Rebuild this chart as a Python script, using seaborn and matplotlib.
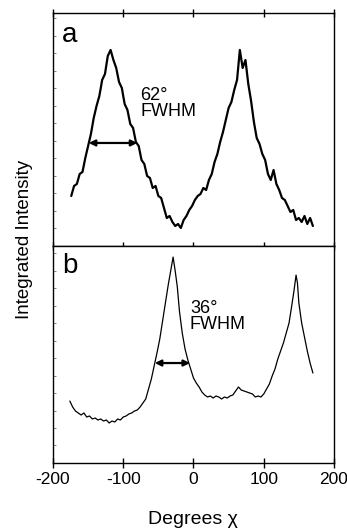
import pandas as pd
import matplotlib
matplotlib.use("Agg")
import matplotlib.pyplot as plt
from matplotlib.ticker import MultipleLocator
import seaborn as sns

# panel a: chi (deg) and integrated intensity (arb. units)
chi_a = [-174, -170, -166, -162, -158, -154, -150, -146, -142, -138, -134, -130, -126, -122,
         -118, -114, -110, -106, -102, -98, -94, -90, -86, -82, -78, -74, -70, -66, -62, -58,
         -54, -50, -46, -42, -38, -34, -30, -26, -22, -18, -14, -10, -6, -2, 2, 6, 10, 14, 18,
         22, 26, 30, 34, 38, 42, 46, 50, 54, 58, 62, 66, 70, 74, 78, 82, 86, 90, 94, 98, 102,
         106, 110, 114, 118, 122, 126, 130, 134, 138, 142, 146, 150, 154, 158, 162, 166, 170]
int_a = [50, 60, 62, 72, 74, 88, 100, 112, 128, 140, 150, 166, 172, 190,
         196, 186, 178, 164, 158, 142, 136, 122, 118, 104, 100, 86, 82, 70, 68, 58,
         60, 50, 48, 38, 28, 30, 24, 20, 22, 18, 26, 30, 36, 40, 46, 50, 52, 58, 56,
         66, 72, 84, 92, 104, 114, 126, 138, 144, 156, 166, 196, 178, 186, 162, 145, 124, 108, 102, 92, 86,
         72, 66, 76, 62, 56, 48, 46, 40, 34, 36, 26, 28, 24, 30, 22, 28, 20]

# panel b
chi_b = [-176, -172, -168, -164, -160, -156, -152, -148, -144, -140, -136, -132, -128, -124,
         -120, -116, -112, -108, -104, -100, -96, -92, -88, -84, -80, -76, -72, -68, -64, -60,
         -56, -52, -48, -44, -40, -36, -32, -29, -26, -23, -20, -16, -12, -8, -4, 0, 4, 8, 12,
         16, 20, 24, 28, 32, 36, 40, 44, 48, 52, 56, 60, 64, 68, 72, 76, 80, 84, 88, 92, 96,
         100, 104, 108, 112, 116, 120, 124, 128, 132, 136, 140, 143, 146, 148, 150, 154, 158,
         162, 166, 170]
int_b = [62, 56, 52, 50, 48, 50, 46, 47, 44, 45, 43, 44, 42, 43,
         40, 42, 41, 44, 43, 46, 47, 49, 50, 52, 53, 56, 60, 64, 74, 84,
         97, 110, 124, 142, 160, 178, 194, 206, 192, 176, 152, 130, 114, 103, 94, 85, 80, 76, 71,
         68, 66, 67, 65, 67, 66, 64, 66, 65, 67, 68, 72, 76, 73, 72, 71, 70, 69, 66, 67, 66,
         69, 74, 79, 87, 94, 104, 112, 120, 130, 140, 158, 172, 188, 180, 160, 140, 126,
         112, 100, 90]

xticks = [-200, -100, 0, 100, 200]
fwhm_a = (-149, -80, 103)
fwhm_b = (-55, -5, 100)

df_a = pd.DataFrame({"chi": chi_a, "I": int_a})
df_b = pd.DataFrame({"chi": chi_b, "I": int_b})

sns.set_style("ticks", {"axes.edgecolor": "black", "text.color": "black",
                        "xtick.color": "black", "ytick.color": "black",
                        "axes.labelcolor": "black"})
plt.rcParams['font.family'] = ['Liberation Sans', 'DejaVu Sans']
plt.rcParams['axes.unicode_minus'] = False

fig = plt.figure(figsize=(3.47, 5.29), dpi=100)
ax_a = fig.add_axes([0.1527, 0.535, 0.8098, 0.4405])
ax_b = fig.add_axes([0.1527, 0.1248, 0.8098, 0.410])

sns.lineplot(data=df_a, x="chi", y="I", ax=ax_a, color="black", lw=1.6, estimator=None)
sns.lineplot(data=df_b, x="chi", y="I", ax=ax_b, color="black", lw=0.9, estimator=None)

ax_a.set_ylim(0, 233)
ax_b.set_ylim(0, 217)
for ax in (ax_a, ax_b):
    ax.set_xlim(-200, 200)
    ax.set_xticks(xticks)
    ax.set_xlabel("")
    ax.set_ylabel("")
    ax.yaxis.set_major_locator(MultipleLocator(17.5))
    ax.tick_params(axis="y", direction="in", length=2, width=0.5, left=True, right=False,
                   labelleft=False, color="#555555")
    for s in ax.spines.values():
        s.set_linewidth(1.0)

ax_a.tick_params(axis="x", direction="inout", length=6, width=1.0, top=True, labelbottom=False)
ax_b.tick_params(axis="x", direction="inout", length=7, width=1.0, labelsize=12.5, pad=3)

# FWHM arrows
for ax, (x0, x1, y) in ((ax_a, fwhm_a), (ax_b, fwhm_b)):
    ax.annotate("", xy=(x0, y), xytext=(x1, y),
                arrowprops=dict(arrowstyle="<|-|>", color="black", lw=1.6,
                                mutation_scale=9, shrinkA=0, shrinkB=0))

ax_a.text(-76, 159, "62°\nFWHM", fontsize=13, va="top", ha="left", linespacing=0.95)
ax_b.text(-5, 163, "36°\nFWHM", fontsize=13, va="top", ha="left", linespacing=0.95)
ax_a.text(-187, 204, "a", fontsize=20, va="baseline", ha="left")
ax_b.text(-187, 190, "b", fontsize=20, va="baseline", ha="left")

fig.text(25 / 347, 1 - 239 / 529, "Integrated Intensity", rotation=90,
         ha="center", va="center", fontsize=13.5)
fig.text(193 / 347, 1 - 519 / 529, "Degrees χ", ha="center", va="center", fontsize=14)

fig.savefig("out.png", dpi=100)
